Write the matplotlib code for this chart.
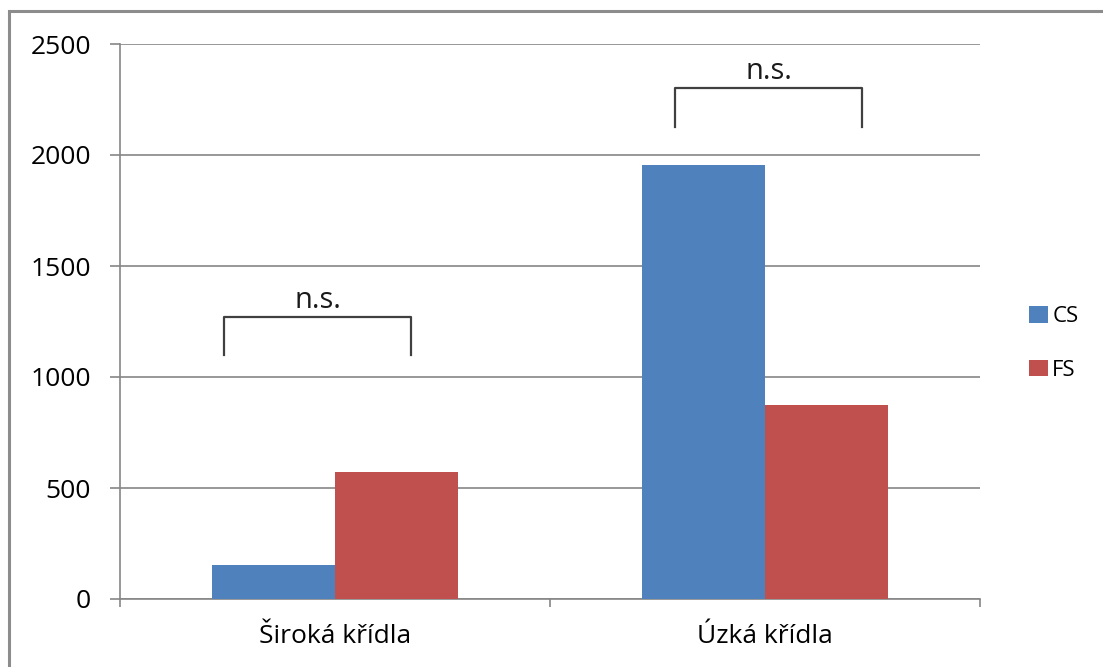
import matplotlib.pyplot as plt
import numpy as np
from matplotlib.patches import Rectangle

# data
categories = ["Široká křídla", "Úzká křídla"]
series = ["CS", "FS"]
cs_values = [153, 1955]
fs_values = [572, 874]
yticks = [0, 500, 1000, 1500, 2000, 2500]
# significance brackets: (category index, left / right offset, top, leg bottom, label)
brackets = [(0, -0.258, 0.177, 1270, 1100, "n.s."),
            (1, -0.209, 0.226, 2302, 2126, "n.s.")]

plt.rcParams['font.family'] = ['Open Sans', 'DejaVu Sans']

W, H = 1103, 667
fig = plt.figure(figsize=(W / 100, H / 100), dpi=100)
ax = fig.add_axes([120 / W, 1 - 599 / H, 860 / W, 555 / H])

# outer chart frame
fig.patches.append(Rectangle((9 / W, -0.1), 1.2, 1 - 11 / H + 0.1,
                             transform=fig.transFigure, fill=False,
                             edgecolor='#8c8c8c', linewidth=2.2))

x = np.arange(len(categories))
bw = 0.285
ax.bar(x - bw / 2, cs_values, bw, color='#4f81bd', label=series[0], zorder=3)
ax.bar(x + bw / 2, fs_values, bw, color='#c0504d', label=series[1], zorder=3)

ax.set_xlim(-0.5, 1.5)
ax.set_ylim(0, 2500)
ax.set_yticks(yticks)
ax.set_xticks(x)
ax.set_xticklabels(categories, fontsize=19)
ax.tick_params(axis='y', labelsize=19, length=7, width=1.2, color='#868686', pad=14)
ax.tick_params(axis='x', length=0, pad=18)
# x boundary ticks between categories
ax.set_xticks([-0.5, 0.5, 1.5], minor=True)
ax.tick_params(axis='x', which='minor', length=6, width=1.2, color='#868686')

ax.grid(axis='y', color='#868686', linewidth=1.2, zorder=0)
for side in ['top', 'right']:
    ax.spines[side].set_visible(False)
for side in ['left', 'bottom']:
    ax.spines[side].set_color('#868686')
    ax.spines[side].set_linewidth(1.2)

for i, lo, ro, top, bottom, txt in brackets:
    xl = i + lo
    xr = i + ro
    ax.plot([xl, xl, xr, xr], [bottom, top, top, bottom], color='#404040',
            linewidth=1.6, zorder=4)
    ax.text((xl + xr) / 2, top + 10, txt, ha='center', va='bottom',
            fontsize=21, fontweight='medium', color='#1a1a1a')

ax.legend(loc='center left', bbox_to_anchor=(1029 / W, 1 - 343.5 / H),
          bbox_transform=fig.transFigure, frameon=False, borderpad=0,
          borderaxespad=0, fontsize=16, handlelength=0.85, handleheight=0.77,
          handletextpad=0.2, labelspacing=1.45)

fig.savefig("out.png", dpi=100)
